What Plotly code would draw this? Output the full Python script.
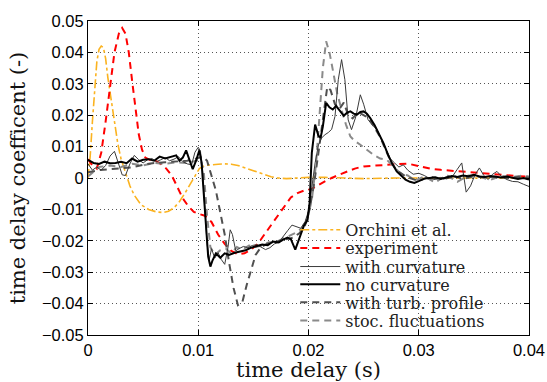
import plotly.graph_objects as go

# ---------------- data ----------------
t_orchini = [0, 0.0002, 0.0004, 0.0006, 0.0008, 0.0010, 0.0012, 0.0014, 0.0016, 0.0018,
             0.0021, 0.0024, 0.0027, 0.0030, 0.0034, 0.0038, 0.0042, 0.0048, 0.0055, 0.0062,
             0.0068, 0.0073, 0.0078, 0.0083, 0.0088, 0.0093, 0.0097, 0.0101, 0.0106, 0.0112,
             0.0118, 0.0124, 0.0130, 0.0136, 0.0142, 0.0148, 0.0154, 0.0160, 0.0166, 0.0172,
             0.0180, 0.0190, 0.0200, 0.0215, 0.0230, 0.0250, 0.0280, 0.0310, 0.0340, 0.0370, 0.0400]
y_orchini = [0, 0.007, 0.018, 0.029, 0.037, 0.041, 0.042, 0.0415, 0.038, 0.032,
             0.025, 0.018, 0.011, 0.006, 0.0015, -0.0025, -0.0055, -0.0085, -0.010, -0.0108,
             -0.011, -0.0106, -0.0095, -0.0075, -0.0048, -0.0018, 0.0008, 0.0030, 0.0040, 0.0043,
             0.0044, 0.0045, 0.0044, 0.0040, 0.0033, 0.0025, 0.0017, 0.0010, 0.0004, 0.0,
             -0.0002, 0.0, 0.0002, 0.0002, 0.0, -0.0002, 0.0, 0.0001, 0.0, 0.0, 0.0]

t_exp = [0, 0.0004, 0.0008, 0.0012, 0.0016, 0.0020, 0.0024, 0.0028, 0.0031, 0.0034,
         0.0037, 0.0040, 0.0043, 0.0046, 0.0049, 0.0052, 0.0056, 0.0061, 0.0066, 0.0071,
         0.0076, 0.0081, 0.0086, 0.0091, 0.0096, 0.0101, 0.0106, 0.0112, 0.0118, 0.0124,
         0.0130, 0.0136, 0.0142, 0.0148, 0.0154, 0.0160, 0.0166, 0.0172, 0.0178, 0.0184,
         0.0190, 0.0196, 0.0202, 0.0210, 0.0218, 0.0226, 0.0234, 0.0242, 0.0250, 0.0260,
         0.0270, 0.0280, 0.0290, 0.0300, 0.0310, 0.0320, 0.0330, 0.0340, 0.0350, 0.0360,
         0.0370, 0.0380, 0.0390, 0.0400]
y_exp = [0.006, 0.004, 0.003, 0.008, 0.018, 0.030, 0.040, 0.046, 0.0478, 0.046,
         0.040, 0.031, 0.022, 0.014, 0.009, 0.0065, 0.0058, 0.0055, 0.0045, 0.003,
         0.0008, -0.003, -0.0065, -0.009, -0.0108, -0.0115, -0.012, -0.014, -0.018, -0.021,
         -0.0232, -0.0243, -0.024, -0.0228, -0.021, -0.018, -0.015, -0.0118, -0.0088, -0.0062,
         -0.0048, -0.004, -0.0036, -0.002, -0.0005, 0.0008, 0.002, 0.003, 0.0037, 0.004,
         0.0042, 0.0044, 0.0046, 0.0038, 0.003, 0.0026, 0.0023, 0.0019, 0.0016, 0.0013,
         0.001, 0.0008, 0.0006, 0.0004]

t_curv = [0, 0.0004, 0.0008, 0.0012, 0.0016, 0.0020, 0.0024, 0.0028, 0.0031, 0.0034,
          0.0038, 0.0042, 0.0046, 0.0050, 0.0054, 0.0058, 0.0062, 0.0066, 0.0070, 0.0074,
          0.0078, 0.0082, 0.0086, 0.0090, 0.0094, 0.0097, 0.0100, 0.0102, 0.0104, 0.0106,
          0.0108, 0.0110, 0.0112, 0.0115, 0.0118, 0.0121, 0.0124, 0.0127, 0.0129, 0.0131,
          0.0134, 0.0137, 0.0141, 0.0145, 0.0149, 0.0153, 0.0157, 0.0161, 0.0165, 0.0169,
          0.0173, 0.0177, 0.0181, 0.0185, 0.0189, 0.0193, 0.0197, 0.0200, 0.0203, 0.0206,
          0.0209, 0.0212, 0.0215, 0.0218, 0.0221, 0.0224, 0.0227, 0.0230, 0.0233, 0.0236,
          0.0239, 0.0243, 0.0247, 0.0250, 0.0254, 0.0258, 0.0262, 0.0266, 0.0270, 0.0274,
          0.0278, 0.0282, 0.0286, 0.0290, 0.0295, 0.0300, 0.0305, 0.0310, 0.0315, 0.0320,
          0.0325, 0.0330, 0.0335, 0.0339, 0.0343, 0.0347, 0.0351, 0.0355, 0.0359, 0.0363,
          0.0367, 0.0371, 0.0375, 0.0380, 0.0385, 0.0390, 0.0395, 0.0400]
y_curv = [0.0045, 0.0025, 0.0035, 0.0025, 0.004, 0.007, 0.0085, 0.004, 0.001, 0.0008,
          0.0045, 0.0072, 0.0058, 0.0048, 0.0058, 0.0062, 0.0052, 0.0058, 0.0065, 0.0055,
          0.006, 0.0068, 0.0052, 0.0045, 0.0042, 0.0082, 0.0098, 0.0085, 0.002, -0.010,
          -0.021, -0.026, -0.0225, -0.0255, -0.0238, -0.026, -0.0275, -0.022, -0.0165, -0.018,
          -0.0232, -0.0225, -0.0218, -0.0222, -0.0215, -0.0212, -0.022, -0.0228, -0.0222, -0.021,
          -0.0205, -0.0185, -0.0168, -0.015, -0.0155, -0.016, -0.0138, -0.0105, -0.003, 0.0048,
          0.0105, 0.0128, 0.0138, 0.0145, 0.0155, 0.0196, 0.0313, 0.0377, 0.0313, 0.0185,
          0.0154, 0.0196, 0.0265, 0.0235, 0.0186, 0.0168, 0.0155, 0.0122, 0.009, 0.0062,
          0.0048, 0.0035, 0.0042, 0.0025, 0.0012, 0.0015, 0.0008, -0.0002, -0.0005, 0.0002,
          -0.0003, 0.0002, 0.0028, 0.0048, -0.0045, -0.0025, 0.001, 0.0032, 0.0008, -0.0005,
          0.0012, 0.0021, 0.0005, -0.0005, -0.0011, -0.0012, -0.002, -0.0027]

t_nocurv = [0, 0.0005, 0.001, 0.0015, 0.002, 0.0025, 0.003, 0.0035, 0.004, 0.0045,
            0.005, 0.0055, 0.006, 0.0065, 0.007, 0.0075, 0.008, 0.0083, 0.0086, 0.0089,
            0.0092, 0.0095, 0.0098, 0.0101, 0.0103, 0.0105, 0.0107, 0.0109, 0.0111, 0.0113,
            0.0116, 0.0120, 0.0124, 0.0128, 0.0133, 0.0138, 0.0143, 0.0148, 0.0153, 0.0158,
            0.0163, 0.0168, 0.0173, 0.0177, 0.0181, 0.0184, 0.0188, 0.0192, 0.0196, 0.0199,
            0.0201, 0.0203, 0.0206, 0.0209, 0.0211, 0.0213, 0.0216, 0.0219, 0.0222, 0.0225,
            0.0229, 0.0232, 0.0235, 0.0238, 0.0241, 0.0244, 0.0247, 0.0250, 0.0253, 0.0256,
            0.0260, 0.0264, 0.0268, 0.0272, 0.0276, 0.0280, 0.0284, 0.0288, 0.0292, 0.0296,
            0.0300, 0.0305, 0.0310, 0.0315, 0.0320, 0.0325, 0.0330, 0.0335, 0.0340, 0.0345,
            0.0350, 0.0355, 0.0360, 0.0365, 0.0370, 0.0375, 0.0380, 0.0385, 0.0390, 0.0395, 0.0400]
y_nocurv = [0.0058, 0.0048, 0.0045, 0.0052, 0.0047, 0.0048, 0.0052, 0.0047, 0.0062, 0.0052,
            0.0058, 0.006, 0.0055, 0.0068, 0.0062, 0.0066, 0.0072, 0.0055, 0.0065, 0.0088,
            0.0058, 0.0028, 0.0055, 0.0088, 0.005, -0.004, -0.016, -0.025, -0.0282, -0.0262,
            -0.024, -0.0254, -0.024, -0.0245, -0.0238, -0.0234, -0.023, -0.0222, -0.0218, -0.0212,
            -0.0214, -0.0202, -0.0205, -0.0196, -0.019, -0.0195, -0.0228, -0.0186, -0.015, -0.0135,
            -0.008, 0.008, 0.017, 0.0135, 0.0128, 0.0164, 0.0239, 0.0225, 0.0218, 0.023,
            0.021, 0.0198, 0.0208, 0.0212, 0.0205, 0.0202, 0.021, 0.0212, 0.0205, 0.0191,
            0.0168, 0.014, 0.0111, 0.0075, 0.0045, 0.0021, 0.0008, -0.0005, -0.0012, -0.0016,
            -0.001, -0.0002, 0.0, 0.0002, -0.0003, 0.0002, 0.0006, 0.0003, 0.0008, 0.0006,
            0.001, 0.0005, 0.0003, 0.0006, 0.0004, 0.0002, 0.0005, 0.0001, -0.0003, 0.0, -0.0005]

t_turb = [0, 0.001, 0.002, 0.003, 0.004, 0.005, 0.006, 0.007, 0.008, 0.009,
          0.0098, 0.0104, 0.0108, 0.0112, 0.0116, 0.012, 0.0124, 0.0128, 0.0132, 0.0136,
          0.014, 0.0144, 0.0148, 0.0152, 0.0157, 0.0162, 0.0168, 0.0174, 0.018, 0.0186,
          0.0192, 0.0197, 0.0201, 0.0205, 0.0209, 0.0213, 0.0217, 0.022, 0.0224, 0.0228,
          0.0232, 0.0236, 0.024, 0.0245, 0.025, 0.0255, 0.026, 0.0265, 0.027, 0.0275,
          0.028, 0.0286, 0.0292, 0.03, 0.031, 0.032, 0.033, 0.034, 0.035, 0.036,
          0.037, 0.038, 0.039, 0.04]
y_turb = [0.0018, 0.0025, 0.0028, 0.0032, 0.0034, 0.0042, 0.0048, 0.005, 0.0052, 0.0055,
          0.0062, 0.0068, 0.0055, 0.001, -0.004, -0.011, -0.018, -0.027, -0.035, -0.0405,
          -0.0395, -0.034, -0.029, -0.0245, -0.022, -0.021, -0.0205, -0.020, -0.0195, -0.019,
          -0.0175, -0.015, -0.010, -0.002, 0.008, 0.019, 0.029, 0.028, 0.0235, 0.022,
          0.024, 0.020, 0.019, 0.021, 0.020, 0.019, 0.016, 0.013, 0.009, 0.005,
          0.0025, 0.001, 0.0, -0.001, 0.0005, -0.0005, 0.0008, -0.0003, 0.0006, 0.0002,
          0.0004, 0.0, 0.0003, 0.0001]

t_stoc = [0, 0.001, 0.002, 0.003, 0.004, 0.005, 0.006, 0.007, 0.008, 0.009,
          0.0098, 0.0102, 0.0105, 0.0108, 0.0111, 0.0115, 0.012, 0.0125, 0.013, 0.0135,
          0.014, 0.0146, 0.0152, 0.0158, 0.0164, 0.017, 0.0176, 0.0182, 0.0188, 0.0194,
          0.0199, 0.0203, 0.0207, 0.021, 0.0213, 0.0216, 0.0219, 0.0222, 0.0226, 0.023,
          0.0234, 0.0238, 0.0242, 0.0247, 0.0253, 0.0259, 0.0265, 0.0271, 0.0277, 0.0283,
          0.029, 0.0297, 0.0305, 0.0315, 0.0325, 0.0335, 0.0345, 0.0355, 0.0365, 0.0375,
          0.0385, 0.0395, 0.04]
y_stoc = [0.0005, 0.0035, 0.004, 0.0035, 0.0045, 0.004, 0.0048, 0.0045, 0.005, 0.0048,
          0.0055, 0.006, 0.002, -0.012, -0.022, -0.0245, -0.023, -0.0225, -0.024, -0.022,
          -0.0228, -0.0215, -0.022, -0.0215, -0.0205, -0.0205, -0.0195, -0.0185, -0.0175, -0.016,
          -0.013, -0.007, 0.005, 0.02, 0.035, 0.0435, 0.040, 0.0345, 0.027, 0.0217,
          0.017, 0.0132, 0.0118, 0.0106, 0.009, 0.0074, 0.0062, 0.0058, 0.0037, 0.0016,
          0.0008, -0.0008, 0.0005, -0.0015, 0.001, -0.0012, 0.0008, 0.0004, -0.0006, 0.0007,
          0.0003, 0.0008, 0.0005]

x_ticks = [0, 0.01, 0.02, 0.03, 0.04]
y_ticks = [-0.05, -0.04, -0.03, -0.02, -0.01, 0, 0.01, 0.02, 0.03, 0.04, 0.05]

series = [
    ("Orchini et al.", t_orchini, y_orchini, dict(color="#FBB320", width=1.6, dash="dashdot")),
    ("experiment", t_exp, y_exp, dict(color="#FF0000", width=2, dash="7px,5px")),
    ("with curvature", t_curv, y_curv, dict(color="#3a3a3a", width=1)),
    ("no curvature", t_nocurv, y_nocurv, dict(color="#000000", width=2)),
    ("with turb. profile", t_turb, y_turb, dict(color="#505050", width=2, dash="7px,5px")),
    ("stoc. fluctuations", t_stoc, y_stoc, dict(color="#8a8a8a", width=2, dash="7px,5px")),
]

order = [0, 1, 5, 4, 2, 3]
legend_names = ["legend", "legend2", "legend3", "legend4", "legend5", "legend6"]

fig = go.Figure()
for idx in order:
    name, t, y, line = series[idx]
    fig.add_trace(go.Scatter(x=t, y=y, mode="lines", name=name, line=line,
                             legend=legend_names[idx], showlegend=True))

plot_top, plot_bot = 21.3, 335.0
row_px = [230, 248.3, 266.7, 284.5, 302.5, 320.5]
legend_font = dict(family="DejaVu Serif", size=16, color="#222222")
lay_leg = {}
for i, ln in enumerate(legend_names):
    ypaper = (plot_bot - row_px[i]) / (plot_bot - plot_top)
    lay_leg[ln] = dict(x=0.47, y=ypaper, xanchor="left", yanchor="middle",
                       bgcolor="rgba(0,0,0,0)", borderwidth=0, font=legend_font,
                       itemwidth=40)

axis_common = dict(showline=True, linecolor="black", linewidth=1, mirror="ticks",
                   ticks="inside", ticklen=5, tickcolor="black", showgrid=True,
                   gridcolor="#555555", gridwidth=1, griddash="1px,3px", zeroline=False,
                   tickfont=dict(family="Liberation Sans", size=16.5, color="black"))

fig.update_layout(
    width=547, height=382, autosize=False,
    margin=dict(l=88, r=18, t=21, b=47),
    paper_bgcolor="white", plot_bgcolor="white",
    xaxis=dict(range=[0, 0.04], tickvals=x_ticks, automargin=False,
               title=dict(text="time delay (s)", standoff=4,
                          font=dict(family="DejaVu Serif", size=21, color="#111111")),
               **axis_common),
    yaxis=dict(range=[-0.05, 0.05], tickvals=y_ticks, automargin=False,
               title=dict(text="time delay coefficent (-)", standoff=10,
                          font=dict(family="DejaVu Serif", size=21, color="#111111")),
               **axis_common),
    **lay_leg,
)

fig.write_html("out.html")
